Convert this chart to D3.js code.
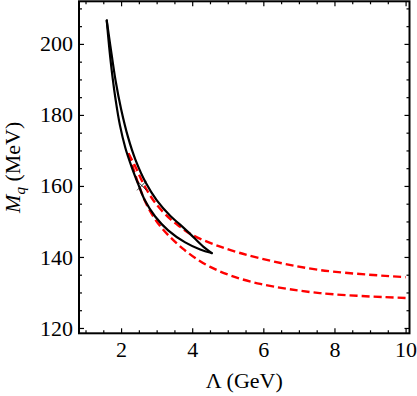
<!DOCTYPE html>
<html>
<head>
<meta charset="utf-8">
<script src="https://cdn.jsdelivr.net/npm/d3@7"></script>
<style>
	body { margin: 0; background: #fff; }
	svg { display: block; }
	text { font-family: "Liberation Serif", "Times New Roman", serif; fill: #000; }
</style>
</head>
<body>
<div id="chart"></div>
<script>
// black loop, outer (upper) branch : Lambda (GeV), Mq (MeV)
const outerL = [1.597, 1.70, 1.85, 2.0, 2.2, 2.4, 2.7, 3.0, 3.38, 3.66, 3.94, 4.31, 4.55]
const outerM = [206.6, 199.4, 189.4, 181.7, 173.6, 167.5, 160.8, 156.0, 151.6, 149.1, 146.5, 142.9, 141.1]

// black loop, inner (lower) branch
const innerL = [1.597, 1.668, 1.752, 1.848, 1.966, 2.121, 2.296, 2.479, 2.676, 2.958, 3.324, 3.803, 4.225, 4.55]
const innerM = [206.6, 198.9, 191.3, 184.2, 177.2, 170.7, 165.4, 160.6, 155.8, 151.4, 147.5, 144.1, 142.1, 141.1]

// red dashed curves
const redUpL = [2.206, 2.394, 2.676, 2.986, 3.380, 3.662, 3.944, 4.789, 5.915, 7.606, 10.0]
const redUpM = [169.2, 165.6, 159.7, 154.9, 150.7, 148.5, 146.5, 142.9, 139.6, 136.3, 134.3]
const redLoL = [2.206, 2.338, 2.479, 2.648, 2.845, 3.099, 3.380, 3.718, 4.085, 4.507, 5.070, 5.915, 7.606, 10.0]
const redLoM = [169.2, 165.1, 160.8, 156.3, 152.4, 148.7, 145.6, 142.5, 139.7, 137.2, 134.8, 132.4, 129.8, 128.45]

// small cross marker
const crossPt = [2.583, 160.1]

const xTicks = [2, 4, 6, 8, 10]
const yTicks = [120, 140, 160, 180, 200]

const W = 417, H = 396
const margin = {top: 1.3, right: 7.5, bottom: 62.7, left: 79}
const w = W - margin.left - margin.right
const h = H - margin.top - margin.bottom

const x = d3.scaleLinear().domain([0.817, 10.11]).range([0, w])
const y = d3.scaleLinear().domain([118.5, 212.0]).range([h, 0])

const svg = d3.select("#chart").append("svg")
	.attr("width", W)
	.attr("height", H)

const g = svg.append("g")
	.attr("transform", `translate(${margin.left},${margin.top})`)

const xMinor = d3.range(1, 10.01, 0.5).filter(v => !xTicks.includes(v))
const yMinor = d3.range(120, 212, 5).filter(v => !yTicks.includes(v))

function styleAxis(sel) {
	sel.select(".domain").remove()
	sel.selectAll("line").attr("stroke", "#000").attr("stroke-width", 1.2)
	sel.selectAll("text").style("font-size", "22px")
}

// bottom
g.append("g").attr("transform", `translate(0,${h})`)
	.call(d3.axisBottom(x).tickValues(xTicks).tickSize(-5).tickPadding(8).tickFormat(d3.format("d")))
	.call(styleAxis)
g.append("g").attr("transform", `translate(0,${h})`)
	.call(d3.axisBottom(x).tickValues(xMinor).tickSize(-3).tickFormat(""))
	.call(styleAxis)
// top
g.append("g")
	.call(d3.axisTop(x).tickValues(xTicks).tickSize(-5).tickFormat(""))
	.call(styleAxis)
g.append("g")
	.call(d3.axisTop(x).tickValues(xMinor).tickSize(-3).tickFormat(""))
	.call(styleAxis)
// left
g.append("g")
	.call(d3.axisLeft(y).tickValues(yTicks).tickSize(-5).tickPadding(6).tickFormat(d3.format("d")))
	.call(styleAxis)
g.append("g")
	.call(d3.axisLeft(y).tickValues(yMinor).tickSize(-3).tickFormat(""))
	.call(styleAxis)
// right
g.append("g").attr("transform", `translate(${w},0)`)
	.call(d3.axisRight(y).tickValues(yTicks).tickSize(-5).tickFormat(""))
	.call(styleAxis)
g.append("g").attr("transform", `translate(${w},0)`)
	.call(d3.axisRight(y).tickValues(yMinor).tickSize(-3).tickFormat(""))
	.call(styleAxis)

const line = d3.line()
	.x(d => x(d[0]))
	.y(d => y(d[1]))
	.curve(d3.curveCatmullRom.alpha(0.5))

g.append("clipPath").attr("id", "clip")
	.append("rect").attr("width", w).attr("height", h)

const plot = g.append("g").attr("clip-path", "url(#clip)")

function redCurve(ls, ms) {
	plot.append("path")
		.datum(d3.zip(ls, ms))
		.attr("d", line)
		.attr("fill", "none")
		.attr("stroke", "#ff0000")
		.attr("stroke-width", 2.4)
		.attr("stroke-dasharray", "8,4")
}
redCurve(redUpL, redUpM)
redCurve(redLoL, redLoM)

function blackCurve(ls, ms) {
	plot.append("path")
		.datum(d3.zip(ls, ms))
		.attr("d", line)
		.attr("fill", "none")
		.attr("stroke", "#000")
		.attr("stroke-width", 2.2)
		.attr("stroke-linecap", "round")
}
blackCurve(outerL, outerM)
blackCurve(innerL, innerM)

plot.append("path")
	.attr("transform", `translate(${x(crossPt[0])},${y(crossPt[1])})`)
	.attr("d", d3.symbol().type(d3.symbolTimes).size(60))
	.attr("fill", "none")
	.attr("stroke", "#000")
	.attr("stroke-width", 0.8)

// frame
g.append("rect")
	.attr("width", w)
	.attr("height", h)
	.attr("fill", "none")
	.attr("stroke", "#000")
	.attr("stroke-width", 2)

// axis titles
svg.append("text")
	.attr("x", margin.left + w / 2)
	.attr("y", 388)
	.attr("text-anchor", "middle")
	.style("font-size", "22px")
	.text("Λ (GeV)")

const yt = svg.append("text")
	.attr("transform", `translate(20,${margin.top + h / 2}) rotate(-90)`)
	.attr("text-anchor", "middle")
	.style("font-size", "22px")
yt.append("tspan").style("font-style", "italic").text("M")
yt.append("tspan").style("font-style", "italic").style("font-size", "15px").attr("dy", 5).text("q")
yt.append("tspan").attr("dy", -5).text(" (MeV)")
</script>
</body>
</html>
